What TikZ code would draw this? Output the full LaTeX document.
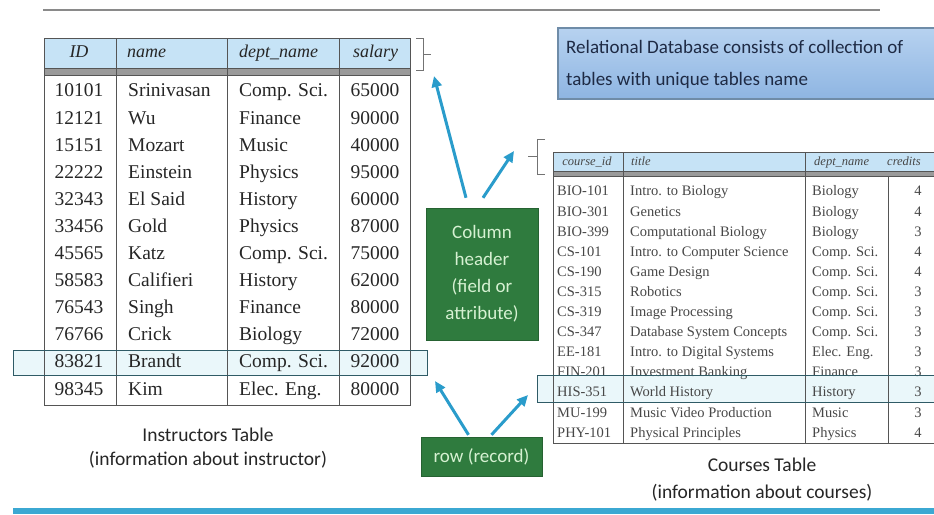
\documentclass[tikz,border=0pt]{standalone}
\usepackage{fontspec}
\setmainfont{Liberation Serif}
\newfontfamily\capfont{Carlito}
\usetikzlibrary{arrows.meta,calc}
\definecolor{hdrblue}{HTML}{C6E3F6}
\definecolor{tabgray}{HTML}{555555}
\definecolor{bandgray}{HTML}{9A9A9A}
\definecolor{hlline}{HTML}{2F5B66}
\definecolor{hlfill}{HTML}{EAF7FA}
\definecolor{boxtop}{HTML}{B7D2F0}
\definecolor{boxbot}{HTML}{8EB5E2}
\definecolor{boxedge}{HTML}{6F8CA8}
\definecolor{gfill}{HTML}{2F7B3E}
\definecolor{gtext}{HTML}{D6F1D2}
\definecolor{arrblue}{HTML}{2A9CCB}
\definecolor{rulegray}{HTML}{8A8A8A}
\definecolor{footblue}{HTML}{3BA8D2}
\definecolor{notetext}{HTML}{1E2A44}
\begin{document}
\begin{tikzpicture}[x=1pt,y=-1pt,
  tabline/.style={draw=tabgray,line width=1pt},
  bigcell/.style={inner sep=0pt,text height=0.7em,text depth=0.22em,
    font=\fontsize{19.5}{22}\selectfont,text=black!85},
  bighead/.style={bigcell,font=\fontsize{18}{22}\selectfont\itshape},
  smallcell/.style={inner sep=0pt,text height=0.7em,text depth=0.22em,
    font=\fontsize{14.5}{16}\selectfont,text=black!72},
  smallhead/.style={smallcell,font=\fontsize{12.5}{14}\selectfont\itshape},
  caption/.style={inner sep=0pt,font=\capfont\fontsize{19.5}{21}\selectfont,text=black!85},
  rowfill/.style={fill=hlfill},
  rowline/.style={draw=hlline,line width=1pt},
  brace/.style={draw=black!55,line width=0.9pt},
  gbox/.style={fill=gfill,draw=gfill!80!black,text=gtext,align=center,inner sep=0pt,
    font=\capfont\fontsize{19}{27}\selectfont},
  notetxt/.style={inner sep=0pt,anchor=west,font=\capfont\fontsize{19}{21}\selectfont,text=notetext},
  arr/.style={draw=arrblue,line width=3pt,-{Triangle[length=11pt,width=10pt]}}]
\useasboundingbox (0,0) rectangle (934,514);
\clip (0,0) rectangle (934,514);

% page rules
\draw[rulegray,line width=1.6pt] (43,10) -- (880,10);
\fill[footblue] (13,508) rectangle (934,514);

% ---------- instructor table ----------
\fill[rowfill] (13,350) rectangle (427,375);
\fill[hdrblue] (44,38) rectangle (410,68);
\fill[bandgray] (44,68) rectangle (410,75);
\draw[tabline] (44,38) rectangle (410,405);
\draw[tabline] (44,68) -- (410,68) (44,75) -- (410,75);
\foreach \vx in {116,227,339} \draw[tabline] (\vx,38) -- (\vx,405);
\node[bighead] (ihid) at (79,55) {ID};
\node[bighead,anchor=west] (ihname) at (127,55) {name};
\node[bighead,anchor=west] (ihdept) at (239,55) {dept\_name};
\node[bighead,anchor=west] (ihsal) at (353,55) {salary};
\foreach \iid/\inm/\idept/\isal [count=\i] in {
  10101/Srinivasan/Comp. Sci./65000,
  12121/Wu/Finance/90000,
  15151/Mozart/Music/40000,
  22222/Einstein/Physics/95000,
  32343/El Said/History/60000,
  33456/Gold/Physics/87000,
  45565/Katz/Comp. Sci./75000,
  58583/Califieri/History/62000,
  76543/Singh/Finance/80000,
  76766/Crick/Biology/72000,
  83821/Brandt/Comp. Sci./92000,
  98345/Kim/Elec. Eng./80000}{
  \pgfmathsetmacro\ry{94.5+27.1*(\i-1)}
  \node[bigcell] (iid\i) at (79,\ry) {\iid};
  \node[bigcell,anchor=west] (inm\i) at (128,\ry) {\inm};
  \node[bigcell,anchor=west] (idp\i) at (239,\ry) {\idept};
  \node[bigcell] (isal\i) at (375,\ry) {\isal};
}
% highlighted record
\draw[rowline] (13,350) rectangle (427,375);
% header brace
\draw[brace] (416,38) -- (423,38) -- (423,70) -- (416,70) (423,54) -- (431,54);
\coordinate (ibrace) at (434,76);

\node[caption] (icap1) at (208,435) {Instructors Table};
\node[caption] (icap2) at (208,460) {(information about instructor)};

% ---------- course table ----------
\fill[rowfill] (537,375) rectangle (945,402);
\fill[hdrblue] (553,152) rectangle (940,171);
\fill[bandgray] (553,171) rectangle (940,176);
\draw[tabline] (553,152) rectangle (940,443);
\draw[tabline] (553,171) -- (940,171) (553,176) -- (940,176);
\foreach \vx in {623,805} \draw[tabline] (\vx,152) -- (\vx,443);
\draw[tabline] (888,176) -- (888,443);
\node[smallhead] (chid) at (587,163) {course\_id};
\node[smallhead,anchor=west] (chtitle) at (631,163) {title};
\node[smallhead,anchor=west] (chdept) at (814,163) {dept\_name};
\node[smallhead,anchor=west] (chcred) at (887,163) {credits};
\foreach \ccid/\cttl/\cdept/\ccred [count=\i] in {
  BIO-101/Intro. to Biology/Biology/4,
  BIO-301/Genetics/Biology/4,
  BIO-399/Computational Biology/Biology/3,
  CS-101/Intro. to Computer Science/Comp. Sci./4,
  CS-190/Game Design/Comp. Sci./4,
  CS-315/Robotics/Comp. Sci./3,
  CS-319/Image Processing/Comp. Sci./3,
  CS-347/Database System Concepts/Comp. Sci./3,
  EE-181/Intro. to Digital Systems/Elec. Eng./3,
  FIN-201/Investment Banking/Finance/3,
  HIS-351/World History/History/3,
  MU-199/Music Video Production/Music/3,
  PHY-101/Physical Principles/Physics/4}{
  \pgfmathsetmacro\ry{193.5+20.1*(\i-1)}
  \node[smallcell,anchor=west] (cid\i) at (557,\ry) {\ccid};
  \node[smallcell,anchor=west] (cttl\i) at (630,\ry) {\cttl};
  \node[smallcell,anchor=west] (cdp\i) at (812,\ry) {\cdept};
  \node[smallcell] (ccr\i) at (918,\ry) {\ccred};
}
% highlighted record
\draw[rowline] (537,375) rectangle (945,402);
% header brace
\draw[brace] (545,139) -- (537,139) -- (537,174) -- (545,174) (537,156) -- (528,156);
\coordinate (cbrace) at (514,151);

\node[caption] (ccap1) at (762,465) {Courses Table};
\node[caption] (ccap2) at (762,493) {(information about courses)};

% ---------- note box ----------
\shade[top color=boxtop,bottom color=boxbot] (558,28) rectangle (945,99);
\draw[boxedge,line width=1.2pt] (945,28) -- (558,28) -- (558,99) -- (945,99);
\node[notetxt] (note1) at (566,47) {Relational Database consists of collection of};
\node[notetxt] (note2) at (566,80) {tables with unique tables name};

% ---------- labels ----------
\node[gbox,minimum width=112pt,minimum height=132pt] (colhdr) at (482,274) {Column\\header\\(field or\\attribute)};
\node[gbox,minimum width=121pt,minimum height=39pt] (rowrec) at (481.5,456.5) {row (record)};

\coordinate (irow) at (435,381);
\coordinate (crow) at (528,395);
\draw[arr] ($(colhdr.north)+(-16,-10)$) -- (ibrace);
\draw[arr] ($(colhdr.north)+(1,-10)$) -- (cbrace);
\draw[arr] ($(rowrec.north)+(-13,-2)$) -- (irow);
\draw[arr] ($(rowrec.north)+(10,-2)$) -- (crow);
\end{tikzpicture}
\end{document}
